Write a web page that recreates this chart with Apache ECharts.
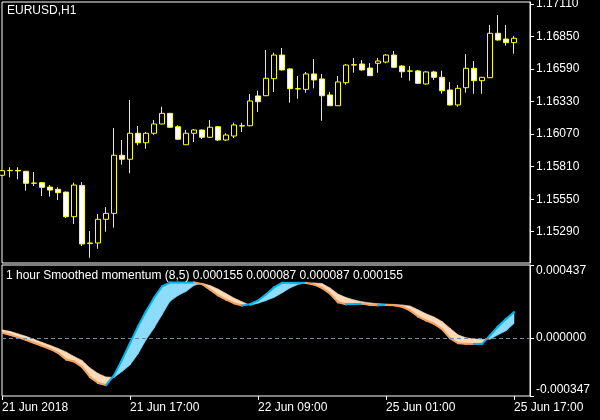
<!DOCTYPE html>
<html><head><meta charset="utf-8">
<script src="https://cdn.jsdelivr.net/npm/echarts@6/dist/echarts.min.js"></script>
<style>html,body{margin:0;padding:0;background:#000}#c{width:600px;height:420px}</style>
</head><body><div id="c"></div>
<script>
const symbolTitle = 'EURUSD,H1';
const indicatorName = '1 hour Smoothed momentum (8,5)';
const indicatorLegendValues = ['0.000155', '0.000087', '0.000087', '0.000155'];

const categories = [
  '21 Jun 01:00','21 Jun 02:00','21 Jun 03:00','21 Jun 04:00','21 Jun 05:00','21 Jun 06:00','21 Jun 07:00','21 Jun 08:00',
  '21 Jun 09:00','21 Jun 10:00','21 Jun 11:00','21 Jun 12:00','21 Jun 13:00','21 Jun 14:00','21 Jun 15:00','21 Jun 16:00',
  '21 Jun 17:00','21 Jun 18:00','21 Jun 19:00','21 Jun 20:00','21 Jun 21:00','21 Jun 22:00','21 Jun 23:00',
  '22 Jun 00:00','22 Jun 01:00','22 Jun 02:00','22 Jun 03:00','22 Jun 04:00','22 Jun 05:00','22 Jun 06:00','22 Jun 07:00',
  '22 Jun 08:00','22 Jun 09:00','22 Jun 10:00','22 Jun 11:00','22 Jun 12:00','22 Jun 13:00','22 Jun 14:00','22 Jun 15:00',
  '22 Jun 16:00','22 Jun 17:00','22 Jun 18:00','22 Jun 19:00','22 Jun 20:00','22 Jun 21:00','22 Jun 22:00','22 Jun 23:00',
  '25 Jun 00:00','25 Jun 01:00','25 Jun 02:00','25 Jun 03:00','25 Jun 04:00','25 Jun 05:00','25 Jun 06:00','25 Jun 07:00',
  '25 Jun 08:00','25 Jun 09:00','25 Jun 10:00','25 Jun 11:00','25 Jun 12:00','25 Jun 13:00','25 Jun 14:00','25 Jun 15:00',
  '25 Jun 16:00','25 Jun 17:00'
];

const opens = [
  1.15741,1.15778,1.15780,1.15773,1.15677,1.15682,1.15647,1.15629,1.15607,1.15410,
  1.15660,1.15195,1.15200,1.15389,1.15437,1.15901,1.15869,1.16077,1.16001,1.16077,
  1.16151,1.16236,1.16129,1.15985,1.16077,1.16103,1.16045,1.16129,1.16023,1.16055,
  1.16137,1.16137,1.16375,1.16377,1.16513,1.16702,1.16591,1.16433,1.16428,1.16551,
  1.16511,1.16383,1.16297,1.16481,1.16622,1.16630,1.16598,1.16636,1.16646,1.16702,
  1.16614,1.16573,1.16575,1.16471,1.16567,1.16524,1.16423,1.16303,1.16441,1.16596,
  1.16497,1.16521,1.16876,1.16830,1.16801
];
const highs = [
  1.15783,1.15805,1.15805,1.15776,1.15767,1.15687,1.15663,1.15645,1.15610,1.15682,
  1.15687,1.15296,1.15432,1.15487,1.16119,1.16023,1.16343,1.16135,1.16087,1.16183,
  1.16289,1.16238,1.16140,1.16103,1.16111,1.16107,1.16183,1.16135,1.16077,1.16161,
  1.16161,1.16391,1.16417,1.16742,1.16721,1.16758,1.16598,1.16535,1.16567,1.16670,
  1.16551,1.16407,1.16535,1.16630,1.16678,1.16662,1.16638,1.16678,1.16710,1.16734,
  1.16622,1.16614,1.16583,1.16572,1.16577,1.16577,1.16487,1.16463,1.16710,1.16654,
  1.16527,1.16942,1.17022,1.16942,1.16854
];
const lows = [
  1.15735,1.15725,1.15709,1.15618,1.15655,1.15575,1.15570,1.15543,1.15399,1.15352,
  1.15176,1.15082,1.15154,1.15290,1.15322,1.15826,1.15757,1.15981,1.15953,1.16065,
  1.16148,1.16119,1.16023,1.15983,1.16007,1.16031,1.16039,1.16015,1.16015,1.16039,
  1.16087,1.16133,1.16247,1.16375,1.16407,1.16578,1.16321,1.16353,1.16401,1.16436,
  1.16177,1.16295,1.16295,1.16465,1.16561,1.16577,1.16535,1.16561,1.16636,1.16598,
  1.16521,1.16497,1.16471,1.16465,1.16503,1.16393,1.16299,1.16289,1.16401,1.16393,
  1.16393,1.16519,1.16818,1.16777,1.16713
];
const closes = [
  1.15778,1.15780,1.15776,1.15677,1.15679,1.15645,1.15623,1.15602,1.15410,1.15663,
  1.15192,1.15200,1.15389,1.15437,1.15901,1.15869,1.16077,1.16001,1.16077,1.16151,
  1.16236,1.16125,1.16029,1.16077,1.16103,1.16045,1.16125,1.16023,1.16063,1.16143,
  1.16135,1.16335,1.16329,1.16516,1.16702,1.16583,1.16433,1.16431,1.16551,1.16503,
  1.16377,1.16297,1.16487,1.16622,1.16625,1.16583,1.16537,1.16654,1.16702,1.16604,
  1.16569,1.16575,1.16476,1.16567,1.16524,1.16417,1.16303,1.16436,1.16596,1.16497,
  1.16524,1.16876,1.16822,1.16801,1.16836
];

// Smoothed momentum, in units of 0.000001
const fastLine = [
  31,19,4,-11,-29,-47,-65,-89,-128,-140,
  -173,-233,-269,-281,-224,-131,-31,69,159,240,
  309,332,332,332,332,323,290,255,230,208,
  195,202,224,261,303,330,330,330,330,320,
  300,266,214,202,204,205,198,196,198,196,
  187,165,129,105,85,53,-1,-31,-35,-36,
  -35,15,69,114,155
];
const slowLine = [
  49,40,25,10,-8,-26,-44,-62,-83,-110,
  -134,-179,-212,-233,-236,-201,-161,-95,-11,59,
  139,220,254,279,315,328,314,293,266,239,
  217,196,208,224,243,270,300,321,330,330,
  326,300,263,242,228,217,210,205,203,201,
  198,192,169,145,126,99,59,19,1,-5,
  -9,-7,19,43,87
];

const priceTicks = [1.15290, 1.15550, 1.15810, 1.16070, 1.16330, 1.16590, 1.16850, 1.17110];
const momentumTicks = [-347, 0, 437];
const xTickIndex = [0, 16, 32, 48, 64];
const xTickLabels = ['21 Jun 2018', '21 Jun 17:00', '22 Jun 09:00', '25 Jun 01:00', '25 Jun 17:00'];

const FONT = 'Liberation Sans';
const chart = echarts.init(document.getElementById('c'), null, {renderer: 'canvas'});
const cats = categories.concat(['', '']);
const candleData = opens.map((o, i) => [o, closes[i], lows[i], highs[i]]);
const bandData = [];
for (let i = 0; i < fastLine.length - 1; i++) {
  bandData.push([i, fastLine[i], slowLine[i], fastLine[i + 1], slowLine[i + 1]]);
}
const UP_FILL = '#8cdcfa', DN_FILL = '#ffdab9', UP_LINE = '#00b4f0', DN_LINE = '#f4a060';

function renderBand(params, api) {
  const i = api.value(0);
  const f0 = api.value(1), s0 = api.value(2), f1 = api.value(3), s1 = api.value(4);
  const pf0 = api.coord([i, f0]), ps0 = api.coord([i, s0]);
  const pf1 = api.coord([i + 1, f1]), ps1 = api.coord([i + 1, s1]);
  const d0 = f0 - s0, d1 = f1 - s1;
  const children = [];
  const poly = (pts, col) => ({type: 'polygon', shape: {points: pts}, style: {fill: col, stroke: col, lineWidth: 0.6}});
  if (d0 * d1 < 0) {
    const t = d0 / (d0 - d1);
    const c = [pf0[0] + (pf1[0] - pf0[0]) * t, pf0[1] + (pf1[1] - pf0[1]) * t];
    children.push(poly([pf0, c, ps0], d0 > 0 ? UP_FILL : DN_FILL));
    children.push(poly([c, pf1, ps1], d1 > 0 ? UP_FILL : DN_FILL));
  } else {
    children.push(poly([pf0, pf1, ps1, ps0], (d0 + d1) >= 0 ? UP_FILL : DN_FILL));
  }
  return {type: 'group', children};
}
function renderFast(params, api) {
  const i = api.value(0);
  const f0 = api.value(1), f1 = api.value(3);
  const p0 = api.coord([i, f0]), p1 = api.coord([i + 1, f1]);
  return {type: 'line', shape: {x1: p0[0], y1: p0[1], x2: p1[0], y2: p1[1]},
    style: {stroke: f1 >= f0 ? UP_LINE : DN_LINE, lineWidth: 2, lineCap: 'square'}};
}

const txt = {color: '#ffffff', fontSize: 12, fontFamily: FONT, fontWeight: 'normal'};

chart.setOption({
  backgroundColor: '#000000',
  animation: false,
  title: [
    {text: symbolTitle, left: 7, top: 5, padding: 0, textStyle: txt},
    {text: indicatorName + ' ' + indicatorLegendValues.join(' '), left: 6, top: 270, padding: 0, textStyle: txt}
  ],
  grid: [
    {left: 2, top: 2, width: 528, height: 261, show: true, borderColor: '#ffffff', borderWidth: 1, backgroundColor: 'transparent', outerBoundsMode: 'none', containLabel: false},
    {left: 2, top: 265, width: 528, height: 131, show: true, borderColor: '#ffffff', borderWidth: 1, backgroundColor: 'transparent', outerBoundsMode: 'none', containLabel: false}
  ],
  xAxis: [
    {gridIndex: 0, type: 'category', data: cats, boundaryGap: false,
      axisLine: {show: false, onZero: false}, axisTick: {show: false}, axisLabel: {show: false}, splitLine: {show: false}},
    {gridIndex: 1, type: 'category', data: cats, boundaryGap: false, position: 'bottom',
      axisLine: {show: false, onZero: false}, splitLine: {show: false},
      axisTick: {show: true, length: 4, interval: (idx) => xTickIndex.includes(idx), lineStyle: {color: '#ffffff'}},
      axisLabel: {show: true, interval: (idx) => xTickIndex.includes(idx), align: 'left', margin: 6,
        formatter: (v, idx) => xTickLabels[xTickIndex.indexOf(idx)] || '',
        color: '#ffffff', fontSize: 12, fontFamily: FONT}}
  ],
  yAxis: [
    {gridIndex: 0, type: 'value', position: 'right', min: 1.15040, max: 1.17126, scale: true,
      splitLine: {show: false}, axisLine: {show: true, onZero: false, lineStyle: {color: '#ffffff'}},
      axisTick: {show: true, length: 4, customValues: priceTicks, lineStyle: {color: '#ffffff'}},
      axisLabel: {customValues: priceTicks, formatter: (v) => v.toFixed(5), margin: 6,
        color: '#ffffff', fontSize: 12, fontFamily: FONT}},
    {gridIndex: 1, type: 'value', position: 'right', min: -347, max: 437,
      splitLine: {show: false}, axisLine: {show: true, onZero: false, lineStyle: {color: '#ffffff'}},
      axisTick: {show: true, length: 4, customValues: momentumTicks, lineStyle: {color: '#ffffff'}},
      axisLabel: {customValues: momentumTicks, formatter: (v) => (v * 1e-6).toFixed(6), margin: 6,
        verticalAlignMinLabel: 'bottom', verticalAlignMaxLabel: 'top',
        color: '#ffffff', fontSize: 12, fontFamily: FONT}}
  ],
  series: [
    {type: 'candlestick', xAxisIndex: 0, yAxisIndex: 0, data: candleData, barWidth: 5, clip: true,
      itemStyle: {color: '#000000', color0: '#ffffff', borderColor: '#ffff00', borderColor0: '#ffff00', borderColorDoji: '#ffff00', borderWidth: 1}},
    {type: 'custom', xAxisIndex: 1, yAxisIndex: 1, data: bandData, renderItem: renderBand, clip: true,
      encode: {x: 0, y: [1, 2]}, silent: true,
      markLine: {silent: true, symbol: 'none', label: {show: false},
        lineStyle: {color: '#7788a0', type: [4, 3], width: 1}, data: [{yAxis: 0}]}},
    {type: 'custom', xAxisIndex: 1, yAxisIndex: 1, data: bandData, renderItem: renderFast, clip: true,
      encode: {x: 0, y: [1, 3]}, silent: true}
  ]
});
</script>
</body></html>
